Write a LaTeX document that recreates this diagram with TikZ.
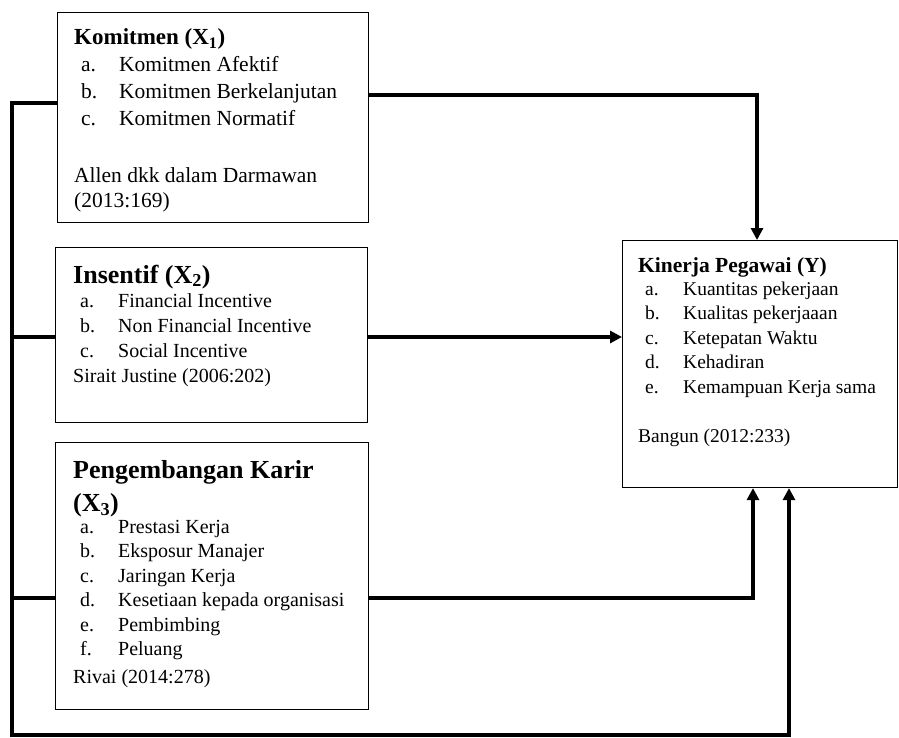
\documentclass[tikz,border=0pt]{standalone}
\usepackage{fontspec}
\setmainfont{Liberation Serif}
\usetikzlibrary{arrows.meta,calc}

% item line: letter, then text
\newcommand{\itm}[2]{\hspace*{7pt}\makebox[38pt][l]{#1}#2}
\newcommand{\ttl}[2]{{\fontsize{#1}{#1}\selectfont\bfseries #2}}

\begin{document}
\begin{tikzpicture}[x=1pt, y=1pt, >={Triangle[length=12pt,width=12pt]},
    box/.style={draw, line width=1.4pt, inner sep=0pt, anchor=north west},
    txt/.style={inner sep=0pt, anchor=base west},
    conn/.style={line width=4pt}]
    % --- Frame ---
    \useasboundingbox (0,0) rectangle (899,-738);

    % --- Boxes ---
    \node[box, minimum width=311pt, minimum height=210pt] (komit) at (57,-12) {};
    \node[box, minimum width=312pt, minimum height=175pt] (ins) at (55,-247) {};
    \node[box, minimum width=313pt, minimum height=267pt] (kar) at (55,-442) {};
    \node[box, line width=1.1pt, minimum width=275pt, minimum height=247pt] (kin) at (622,-240) {};

    % --- Texts ---
    \node[txt] (komit-t) at (74,-45) {\fontsize{21.5}{27}\selectfont
      \begin{tabular}[t]{@{}l@{}}
        \ttl{23}{Komitmen (X\textsubscript{1})}\\
        \itm{a.}{Komitmen Afektif}\\
        \itm{b.}{Komitmen Berkelanjutan}\\
        \itm{c.}{Komitmen Normatif}\\
        \\[3pt]
        Allen dkk dalam Darmawan\\[-2pt]
        (2013:169)
      \end{tabular}};
    \node[txt] (ins-t) at (73,-283) {\fontsize{20}{25}\selectfont
      \begin{tabular}[t]{@{}l@{}}
        \ttl{26}{Insentif (X\textsubscript{2})}\\[-1pt]
        \itm{a.}{Financial Incentive}\\
        \itm{b.}{Non Financial Incentive}\\
        \itm{c.}{Social Incentive}\\
        Sirait Justine (2006:202)
      \end{tabular}};
    \node[txt] (kar-t) at (73,-478) {\fontsize{20}{24.5}\selectfont
      \begin{tabular}[t]{@{}l@{}}
        \ttl{26}{Pengembangan Karir}\\[8pt]
        \ttl{26}{(X\textsubscript{3})}\\[-2.5pt]
        \itm{a.}{Prestasi Kerja}\\
        \itm{b.}{Eksposur Manajer}\\
        \itm{c.}{Jaringan Kerja}\\
        \itm{d.}{Kesetiaan kepada organisasi}\\
        \itm{e.}{Pembimbing}\\
        \itm{f.}{Peluang}\\[3.5pt]
        Rivai (2014:278)
      \end{tabular}};
    \node[txt] (kin-t) at (638,-272) {\fontsize{19.5}{24.5}\selectfont
      \begin{tabular}[t]{@{}l@{}}
        \ttl{21.5}{Kinerja Pegawai (Y)}\\[-1.5pt]
        \itm{a.}{Kuantitas pekerjaan}\\
        \itm{b.}{Kualitas pekerjaaan}\\
        \itm{c.}{Ketepatan Waktu}\\
        \itm{d.}{Kehadiran}\\
        \itm{e.}{Kemampuan Kerja sama}\\
        \\
        Bangun (2012:233)
      \end{tabular}};

    % --- Connectors ---
    \coordinate (bus) at (12,-735);
    \coordinate (insOut) at ($(ins.north east)+(0,-90)$);
    \coordinate (karOut) at ($(kar.north east)+(0,-156)$);

    % Komitmen to Kinerja (from the top)
    \draw[conn, ->] ($(komit.north east)+(0,-83)$) -| ($(kin.north west)+(135,0)$);
    % Insentif to Kinerja
    \draw[conn, ->] (insOut) -- (kin.west |- insOut);
    % Karir to Kinerja (from below)
    \draw[conn, ->] (karOut) -| ($(kin.south west)+(131,0)$);
    % left bus, joint effect
    \draw[conn, ->] ($(komit.north west)+(0,-91)$) -| (bus) -| ($(kin.south west)+(167,0)$);
    \draw[conn] (bus |- insOut) -- (ins.west |- insOut);
    \draw[conn] (bus |- karOut) -- (kar.west |- karOut);

\end{tikzpicture}
\end{document}
